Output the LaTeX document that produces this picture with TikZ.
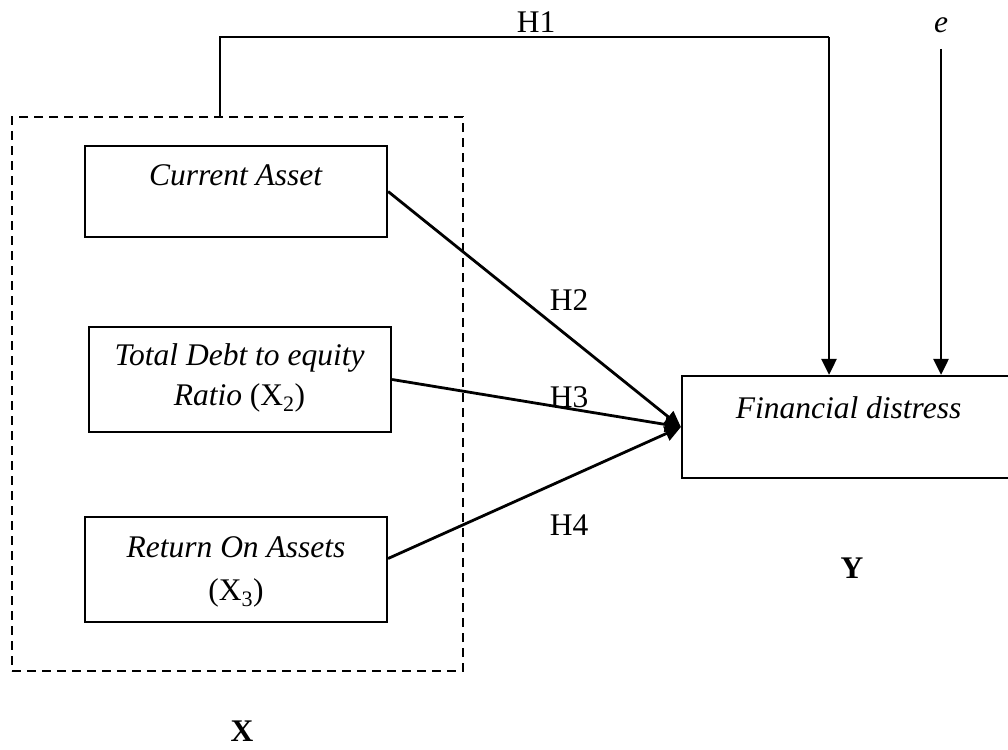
\documentclass[tikz,border=0pt]{standalone}
\usepackage{fontspec}
\setmainfont{Liberation Serif}
\usetikzlibrary{arrows.meta}

\begin{document}
\begin{tikzpicture}[
  x=1pt, y=-1pt,
  every node/.style={font=\fontsize{31.5}{38}\selectfont},
  varbox/.style={draw, line width=2.2pt, rectangle, inner sep=0pt},
  groupbox/.style={draw, line width=1.8pt, dash pattern=on 9pt off 6pt, inner sep=0pt},
  txt/.style={anchor=base, inner sep=0pt},
  conn/.style={line width=2.8pt, -{Triangle[width=15pt,length=16pt]}},
  link/.style={line width=2.2pt},
]
\useasboundingbox (0,0) rectangle (1008,749);

% dashed group of independent variables
\node[groupbox, minimum width=451pt, minimum height=554pt] (xgroup) at (237.5,394) {};

% independent variable boxes
\node[varbox, minimum width=302pt, minimum height=91pt] (ca) at (236,191.5) {};
\node[txt] at (236,185) {\textit{Current Asset}};

\node[varbox, minimum width=302pt, minimum height=105pt] (tder) at (240,379.5) {};
\node[txt] at (239.5,365) {\textit{Total Debt to equity}};
\node[txt] at (239.5,405) {\textit{Ratio} (X\textsubscript{2})};

\node[varbox, minimum width=302pt, minimum height=105pt] (roa) at (236,569.5) {};
\node[txt] at (236,557) {\textit{Return On Assets}};
\node[txt] at (236,600) {(X\textsubscript{3})};

% dependent variable box
\node[varbox, minimum width=333pt, minimum height=102pt] (fd) at (848.5,427) {};
\node[txt] at (848.5,418) {\textit{Financial distress}};

% hypothesis paths
\coordinate (h1corner) at (829,37);
\draw[link] ([xshift=-17.5pt]xgroup.north) |- (h1corner);
\draw[conn] (h1corner) -- (h1corner |- fd.north);
\draw[conn] (ca.east) -- (fd.west);
\draw[conn] (tder.east) -- (fd.west);
\draw[conn] ([yshift=11pt]roa.east) -- (fd.west);

% error term
\node[txt] (elabel) at (941,33) {\textit{e}};
\coordinate (etop) at (941,49);
\draw[conn] (etop) -- (etop |- fd.north);

% path labels
\node[txt] at (536,33) {H1};
\node[txt] at (569,310) {H2};
\node[txt] at (569,407) {H3};
\node[txt] at (569,535) {H4};

% block labels
\node[txt] at (852,578) {\textbf{Y}};
\node[txt] at (242,741) {\textbf{X}};
\end{tikzpicture}
\end{document}
